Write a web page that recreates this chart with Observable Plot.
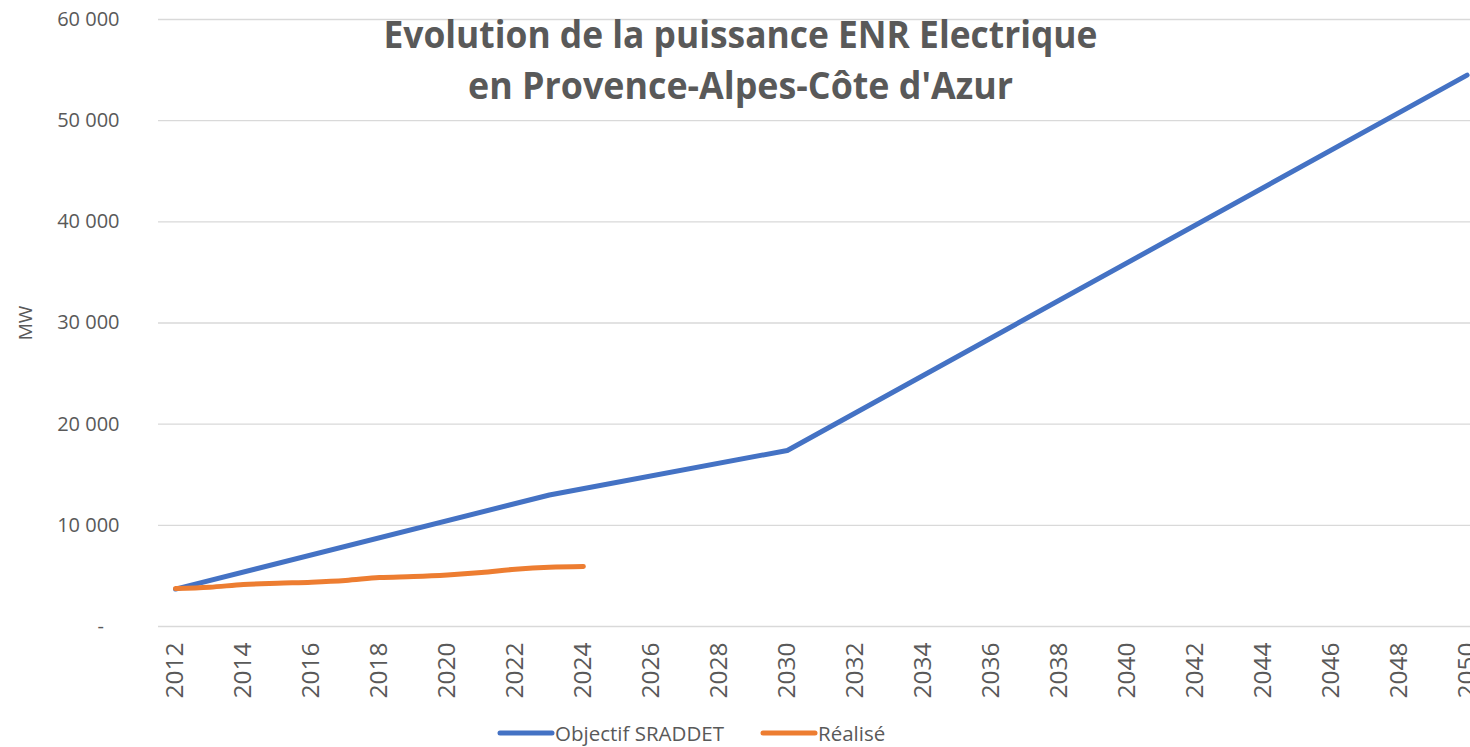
<!DOCTYPE html>
<html>
<head>
<meta charset="utf-8">
<script src="https://cdn.jsdelivr.net/npm/d3@7"></script>
<script src="https://cdn.jsdelivr.net/npm/@observablehq/plot@0.6"></script>
<style>
  html, body { margin: 0; padding: 0; background: #fff; overflow: hidden; }
  #wrap { position: relative; width: 1470px; height: 747px; }
  #legend { position: absolute; left: 0; top: 700px; width: 1470px; height: 47px;
    font-family: "Open Sans", sans-serif; font-size: 20.5px; color: #595959; }
  .item { position: absolute; top: 20px; display: flex; align-items: center; white-space: nowrap; line-height: 26px; }
  .item svg { display: block; }
</style>
</head>
<body>
<div id="wrap">
  <div id="chart"></div>
  <div id="legend"></div>
</div>
<script>
// ---- data ----
const objectifYears  = [2012, 2023, 2030, 2050];
const objectifValues = [3700, 13000, 17400, 54500];

const realiseYears  = [2012, 2013, 2014, 2015, 2016, 2017, 2018, 2019, 2020, 2021, 2022, 2023, 2024];
const realiseValues = [3750, 3880, 4150, 4280, 4380, 4550, 4840, 4940, 5100, 5340, 5660, 5860, 5930];

const seriesNames  = ["Objectif SRADDET", "Réalisé"];
const seriesColors = ["#4472C4", "#ED7D31"];

const xTicks = d3.range(2012, 2051, 2);
const yTicks = [0, 10000, 20000, 30000, 40000, 50000, 60000];

const titleLines = ["Evolution de la puissance ENR Electrique", "en Provence-Alpes-Côte d'Azur"];
const yLabel = "MW";

// ---- build ----
const objectif = objectifYears.map((y, i) => ({year: y, value: objectifValues[i]}));
const realise  = realiseYears.map((y, i) => ({year: y, value: realiseValues[i]}));

const fmtY = d => d === 0 ? "-\u00a0\u00a0\u00a0" : d3.format(",")(d).replace(/,/g, " ");
const textColor = "#595959";

const chart = Plot.plot({
  width: 1470,
  height: 700,
  marginLeft: 158,
  marginRight: 0,
  marginTop: 19,
  marginBottom: 74,
  style: { fontFamily: "Open Sans, sans-serif", color: textColor, background: "#fff", overflow: "visible" },
  x: { domain: [2011.5, 2050.1] },
  y: { domain: [0, 60000] },
  marks: [
    Plot.gridY(yTicks, { stroke: "#D9D9D9", strokeOpacity: 1, strokeWidth: 1.3 }),
    Plot.axisY(yTicks, { tickSize: 0, tickPadding: 39, tickFormat: fmtY, fontSize: 20, fill: textColor,
      label: yLabel, labelAnchor: "center", labelArrow: "none", labelOffset: 140 }),
    Plot.axisX(xTicks, { tickSize: 0, tickPadding: 16, tickRotate: -90, tickFormat: d => String(d),
      fontSize: 24.5, fill: textColor, label: null }),
    Plot.line(objectif, { x: "year", y: "value", stroke: seriesColors[0], strokeWidth: 5,
      strokeLinecap: "round", strokeLinejoin: "round" }),
    Plot.line(realise, { x: "year", y: "value", stroke: seriesColors[1], strokeWidth: 5,
      curve: "catmull-rom", strokeLinecap: "round", strokeLinejoin: "round" }),
    Plot.text([titleLines[0]], { frameAnchor: "top", dx: -74, dy: 17, lineAnchor: "middle",
      fontSize: 37, fontWeight: "bold", fill: textColor, className: "title1" }),
    Plot.text([titleLines[1]], { frameAnchor: "top", dx: -74, dy: 68, lineAnchor: "middle",
      fontSize: 37, fontWeight: "bold", fill: textColor, className: "title2" })
  ]
});
document.getElementById("chart").appendChild(chart);

// fit title widths
d3.select(chart).selectAll(".title1 text").attr("textLength", 714).attr("lengthAdjust", "spacingAndGlyphs");
d3.select(chart).selectAll(".title2 text").attr("textLength", 545).attr("lengthAdjust", "spacingAndGlyphs");
// y label font
d3.select(chart).selectAll("[aria-label='y-axis label']").attr("font-size", 19);

// legend
const legend = document.getElementById("legend");
const legendLeft = [497, 760];
seriesNames.forEach((name, i) => {
  const item = document.createElement("div");
  item.className = "item";
  item.style.left = legendLeft[i] + "px";
  item.innerHTML = `<svg width="58" height="10"><line x1="3" y1="5" x2="55" y2="5" stroke="${seriesColors[i]}" stroke-width="5" stroke-linecap="round"/></svg><span>${name}</span>`;
  legend.appendChild(item);
});
</script>
</body>
</html>
